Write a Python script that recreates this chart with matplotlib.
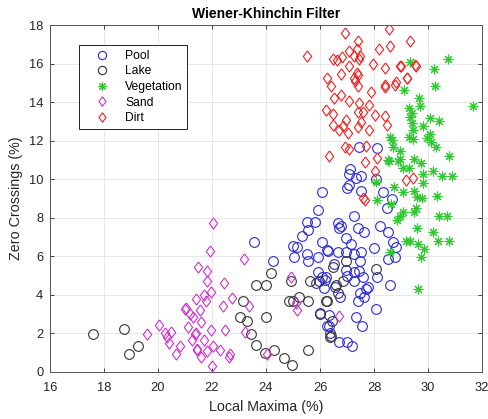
import matplotlib.pyplot as plt

plt.rcParams['font.family'] = ['Liberation Sans', 'DejaVu Sans']

# ===== feature values per terrain class =====
pool_x = [25.93, 25.51, 25.81, 25.57, 25.33, 23.57, 24.99, 25.16, 26.25, 24.25,
          25.04, 25.53, 25.54, 25.91, 25.94, 25.85, 26.06, 26.19, 26.00, 26.25,
          27.27, 26.68, 26.77, 26.70, 27.40, 27.64, 28.23, 28.51, 26.96, 27.15,
          28.69, 28.81, 28.01, 26.68, 26.96, 27.27, 27.51, 26.31, 26.06, 28.51,
          28.78, 27.49, 26.53, 26.22, 26.96, 27.27, 27.46, 27.60, 26.99, 27.27,
          28.12, 26.16, 26.56, 26.74, 27.78, 27.69, 27.48, 27.64, 27.40, 28.59,
          28.07, 26.33, 26.33, 27.33, 27.54, 26.70, 27.01, 27.20, 28.47, 27.46,
          28.12, 27.10, 27.07, 27.32, 27.51, 27.08, 27.00, 27.51, 26.06, 28.07,
          28.34, 28.66, 26.37]
pool_y = [8.40, 7.76, 7.76, 7.36, 7.06, 6.72, 6.53, 6.49, 6.32, 5.76,
          5.97, 6.11, 5.76, 5.97, 5.19, 4.59, 4.90, 4.76, 3.06, 2.37,
          8.08, 7.74, 7.56, 7.45, 7.45, 7.24, 7.56, 7.24, 6.93, 6.61,
          6.72, 6.49, 6.41, 6.20, 6.20, 6.11, 6.20, 6.28, 6.72, 5.85,
          5.97, 5.76, 5.59, 4.90, 5.28, 5.16, 5.24, 4.93, 4.98, 4.72,
          4.90, 4.33, 4.38, 3.86, 4.38, 4.28, 4.07, 3.86, 3.69, 4.50,
          3.24, 2.94, 2.39, 2.86, 2.37, 1.56, 1.56, 1.35, 8.48, 11.68,
          11.63, 10.52, 10.25, 10.04, 10.18, 9.69, 9.55, 9.38, 9.35, 10.00,
          9.35, 8.97, 1.99]

lake_x = [17.58, 18.74, 19.27, 18.94, 24.17, 23.64, 23.99, 24.91, 25.63, 23.14,
          24.85, 25.01, 25.23, 25.57, 23.04, 23.31, 23.46, 23.62, 23.99, 23.97,
          24.31, 24.68, 24.97, 25.54, 26.00, 25.98, 26.25, 26.96, 26.49, 28.06,
          26.86, 26.59, 26.68, 26.21, 26.46, 26.40, 26.37]
lake_y = [1.96, 2.20, 1.35, 0.93, 5.14, 4.48, 4.48, 4.72, 4.72, 3.69,
          3.69, 3.69, 3.86, 3.69, 2.84, 2.62, 1.96, 1.37, 2.84, 0.96,
          1.11, 0.71, 0.33, 1.13, 3.00, 4.72, 3.69, 5.76, 5.42, 5.33,
          4.72, 4.50, 4.10, 3.69, 2.65, 1.85, 1.78]

veg_x = [29.62, 29.74, 29.86, 29.62, 29.19, 29.33, 30.38, 30.79, 30.17, 29.60,
         30.41, 30.69, 28.84, 28.96, 29.09, 29.48, 29.57, 28.59, 28.12, 28.63,
         30.75, 29.33, 30.22, 30.27, 29.11, 29.65, 29.70, 31.66, 29.30, 29.41,
         29.33, 30.07, 30.42, 29.39, 29.83, 29.46, 30.07, 29.95, 29.31, 29.46,
         28.59, 28.68, 28.72, 30.10, 30.30, 28.96, 30.79, 28.57, 28.96, 29.49,
         29.73, 29.06, 29.31, 29.83, 30.17, 30.53, 30.90, 29.80, 28.74, 29.09,
         29.48, 29.58, 29.77, 30.32, 28.07, 28.52, 28.89]
veg_y = [4.29, 5.97, 6.37, 6.61, 6.80, 6.80, 6.80, 6.80, 7.24, 7.45,
         8.08, 8.08, 7.88, 8.08, 8.28, 8.28, 8.48, 6.20, 8.91, 8.71,
         16.22, 16.10, 15.70, 14.83, 14.63, 14.20, 13.81, 13.81, 13.67, 13.42,
         13.24, 13.16, 13.03, 12.93, 12.76, 12.55, 12.34, 12.12, 12.20, 12.07,
         12.20, 12.03, 11.68, 11.94, 11.65, 11.46, 11.21, 10.96, 11.03, 11.03,
         10.85, 10.59, 10.59, 10.25, 10.42, 10.18, 10.18, 9.81, 9.57, 9.35,
         9.38, 9.09, 9.04, 9.12, 9.87, 10.99, 10.96]

sand_x = [19.58, 20.05, 20.27, 20.48, 20.32, 20.41, 20.81, 20.68, 21.01, 21.05,
          21.20, 21.41, 21.48, 21.10, 21.25, 21.42, 21.43, 22.04, 21.94, 23.19,
          21.80, 21.80, 22.44, 21.70, 21.95, 22.73, 21.78, 22.42, 23.36, 21.56,
          21.28, 21.60, 22.48, 23.22, 21.97, 21.37, 21.70, 22.05, 22.30, 21.46,
          21.80, 22.67, 22.64, 21.58, 22.01, 24.03, 24.91, 25.11, 25.14, 26.72]
sand_y = [1.96, 2.40, 2.00, 2.08, 1.82, 1.50, 1.35, 0.93, 3.26, 3.30,
          3.00, 3.76, 5.45, 2.30, 1.65, 2.00, 1.13, 7.74, 6.27, 5.83,
          5.24, 4.72, 4.60, 3.97, 4.14, 3.84, 3.67, 3.41, 3.41, 3.20,
          2.86, 2.58, 2.16, 2.08, 2.16, 1.96, 1.65, 1.35, 1.13, 1.16,
          1.09, 0.92, 0.75, 0.75, 0.31, 0.92, 4.90, 3.55, 3.20, 2.89]

dirt_x = [28.56, 26.94, 27.40, 28.59, 28.20, 25.51, 26.49, 26.80, 26.62, 27.07,
          27.36, 27.48, 27.26, 27.43, 27.08, 27.95, 28.41, 28.96, 29.52, 26.78,
          26.25, 27.26, 27.36, 27.42, 27.30, 27.42, 26.42, 29.21, 28.81, 28.78,
          28.42, 27.88, 26.78, 26.53, 27.08, 27.46, 27.80, 27.60, 26.21, 26.49,
          27.42, 28.04, 28.41, 28.47, 27.51, 26.96, 26.49, 26.84, 26.72, 27.03,
          27.40, 27.83, 26.91, 27.08, 27.70, 26.34, 27.67, 28.10, 28.04, 27.67,
          29.19, 29.46, 29.33, 28.99, 29.56, 29.24, 28.41, 27.60]
dirt_y = [17.79, 17.57, 17.17, 16.93, 16.75, 16.41, 16.24, 16.32, 16.20, 16.65,
          16.75, 16.41, 16.41, 16.24, 15.89, 15.96, 15.75, 15.89, 15.92, 15.44,
          15.27, 15.27, 15.50, 15.40, 15.09, 14.83, 14.83, 15.27, 15.06, 14.90,
          14.89, 14.51, 14.37, 14.23, 14.06, 13.94, 13.85, 13.50, 13.59, 13.36,
          13.50, 13.33, 13.28, 12.81, 12.98, 13.07, 12.81, 12.77, 12.55, 12.38,
          12.72, 12.55, 11.68, 11.56, 11.72, 11.21, 10.90, 11.11, 10.42, 8.91,
          9.95, 10.07, 17.17, 15.87, 15.87, 15.27, 14.80, 9.00]

# MATLAB-style diamond: a bit wider than matplotlib's thin 'd'
diamond = [(0, 1), (0.75, 0), (0, -1), (-0.75, 0), (0, 1)]

fig = plt.figure(figsize=(4.88, 4.19), dpi=100)
ax = fig.add_axes([0.1025, 0.1129, 0.8852, 0.8274])

ax.plot(pool_x, pool_y, 'o', ms=7, mfc='none', mec='#2a2ad0', mew=0.8, label='Pool')
ax.plot(lake_x, lake_y, 'o', ms=7, mfc='none', mec='#333333', mew=0.8, label='Lake')
ax.plot(veg_x, veg_y, marker=(8, 2, 0), ls='none', ms=7, mec='#30c830', mew=0.8,
        label='Vegetation')
ax.plot(sand_x, sand_y, marker=diamond, ls='none', ms=8, mfc='none', mec='#cc33cc',
        mew=0.8, label='Sand')
ax.plot(dirt_x, dirt_y, marker=diamond, ls='none', ms=8, mfc='none', mec='#ee2222',
        mew=0.8, label='Dirt')

ax.set_xlim(16, 32)
ax.set_ylim(0, 18)
ax.set_xticks(range(16, 33, 2))
ax.set_yticks(range(0, 19, 2))
ax.grid(True, color='#e3e3e3', lw=0.6)
ax.set_axisbelow(True)
ax.tick_params(direction='in', top=True, right=True, length=3, width=0.6,
               labelsize=9.3, colors='#262626')
ax.tick_params(axis='x', pad=7.5)
ax.tick_params(axis='y', pad=4.8)
for s in ax.spines.values():
    s.set_color('#555555')
    s.set_linewidth(0.7)

ax.set_title('Wiener-Khinchin Filter', fontsize=10, fontweight='bold', pad=5)
ax.set_xlabel('Local Maxima (%)', fontsize=10.3, color='#262626', labelpad=4.5)
ax.set_ylabel('Zero Crossings (%)', fontsize=10.3, color='#262626', labelpad=4)

leg = ax.legend(loc='upper left', bbox_to_anchor=(0.0678, 0.9423), borderaxespad=0,
                fancybox=False, framealpha=1, edgecolor='#222222', fontsize=8.7,
                handletextpad=0.38, borderpad=0.4, labelspacing=0.3, handlelength=3.0,
                markerscale=0.85)
leg.get_frame().set_linewidth(0.7)

plt.savefig('out.png', dpi=100)
plt.close()
